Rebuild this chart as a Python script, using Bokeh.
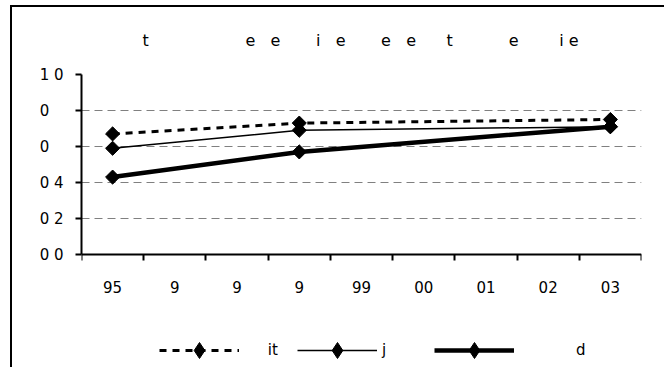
import math
from bokeh.plotting import figure
from bokeh.models import FixedTicker, Legend, LegendItem, Title, Range1d
from bokeh.embed import file_html
from bokeh.resources import INLINE

NB = "\u00a0"

# ---- data ----
title_text = ("t" + NB * 19 + "e" + NB * 3 + "e" + NB * 7 + "i" + NB * 3 + "e" + NB * 7 +
              "e" + NB * 3 + "e" + NB * 6 + "t" + NB * 11 + "e" + NB * 8 + "i" + NB * 1 + "e")
years_all = [1995, 1996, 1997, 1998, 1999, 2000, 2001, 2002, 2003]
category_labels = ["95", "9", "9", "9", "99", "00", "01", "02", "03"]
data_years = [1995, 1998, 2003]
series_it = [0.67, 0.73, 0.75]
series_j = [0.59, 0.69, 0.71]
series_d = [0.43, 0.57, 0.71]
y_ticks = [0.0, 0.2, 0.4, 0.6, 0.8, 1.0]
y_tick_labels = ["0 0", "0 2", "0 4", "0" + NB * 3, "0" + NB * 3, "1 0"]
legend_labels = [NB * 5 + "it", "j" + NB * 6, NB * 12 + "d"]

FONT = "DejaVu Sans"

xs = [years_all.index(y) + 0.5 for y in data_years]

# layout: the value axis (0..1) takes 180 px; the frame continues below it to hold the legend
AXIS_PX = 180
FRAME_H = 298
y_low = y_ticks[-1] - FRAME_H / AXIS_PX * (y_ticks[-1] - y_ticks[0])

p = figure(frame_width=560, frame_height=FRAME_H,
           x_range=Range1d(0, len(years_all)), y_range=Range1d(y_low, y_ticks[-1]),
           output_backend="svg", toolbar_location=None,
           min_border_left=69, min_border_right=23, min_border_top=67, min_border_bottom=0)
p.styles = {"margin-left": "10px", "margin-top": "5px",
            "border-left": "2px solid black", "border-top": "2px solid black"}
p.outline_line_color = None
p.background_fill_color = "white"
p.border_fill_color = "white"

p.title = Title(text=title_text, align="left", offset=61, standoff=45, vertical_align="top",
                text_font=FONT, text_font_size="16px", text_font_style="normal",
                text_color="black")

# grid
p.xgrid.visible = False
p.ygrid.grid_line_color = "#808080"
p.ygrid.grid_line_dash = "8 5"
p.ygrid.grid_line_width = 1

# y axis
p.yaxis.ticker = FixedTicker(ticks=y_ticks)
p.yaxis.bounds = (y_ticks[0], y_ticks[-1])
p.yaxis.major_label_overrides = dict(zip(y_ticks, y_tick_labels))
p.yaxis.minor_tick_line_color = None
p.yaxis.major_tick_out = 6
p.yaxis.major_tick_in = 0
p.yaxis.axis_line_width = 2
p.yaxis.major_tick_line_width = 2
p.yaxis.major_label_standoff = 12
p.yaxis.major_label_text_font = FONT
p.yaxis.major_label_text_font_size = "15px"
p.yaxis.major_label_text_color = "black"

# x axis at value 0: labels at category centres, tick marks at category boundaries
p.xaxis.fixed_location = y_ticks[0]
p.xaxis.ticker = FixedTicker(ticks=[i + 0.5 for i in range(len(years_all))],
                             minor_ticks=list(range(len(years_all) + 1)))
p.xaxis.major_label_overrides = {i + 0.5: lab for i, lab in enumerate(category_labels)}
p.xaxis.major_tick_line_color = None
p.xaxis.major_tick_out = 0
p.xaxis.major_tick_in = 0
p.xaxis.minor_tick_out = 6
p.xaxis.minor_tick_in = 0
p.xaxis.minor_tick_line_color = "black"
p.xaxis.minor_tick_line_width = 2
p.xaxis.axis_line_width = 2
p.xaxis.major_label_standoff = 20
p.xaxis.major_label_text_font = FONT
p.xaxis.major_label_text_font_size = "15px"
p.xaxis.major_label_text_color = "black"

# series lines
l_d = p.line(xs, series_d, line_color="black", line_width=4.5)
l_j = p.line(xs, series_j, line_color="black", line_width=1.5)
l_it = p.line(xs, series_it, line_color="black", line_width=3, line_dash="7 6")

# diamond markers used by the legend (hidden beneath the turned squares in the plot)
k_d = p.scatter(xs, series_d, marker="diamond", size=12, color="black")
k_j = p.scatter(xs, series_j, marker="diamond", size=12, color="black")
k_it = p.scatter(xs, series_it, marker="diamond", size=12, color="black")

# visible data markers: squares turned 45 degrees
for ser in (series_d, series_j, series_it):
    p.scatter(xs, ser, marker="square", size=10, angle=math.pi / 4, color="black")

legend = Legend(items=[LegendItem(label=legend_labels[0], renderers=[l_it, k_it]),
                       LegendItem(label=legend_labels[1], renderers=[l_j, k_j]),
                       LegendItem(label=legend_labels[2], renderers=[l_d, k_d])],
                orientation="horizontal", location=(78, 2),
                glyph_width=80, glyph_height=40, label_standoff=5, spacing=19,
                padding=0, margin=0, border_line_alpha=0, background_fill_alpha=0,
                label_text_font=FONT, label_text_font_size="15px", label_text_color="black")
p.add_layout(legend)

open("out.html", "w").write(file_html(p, INLINE))
